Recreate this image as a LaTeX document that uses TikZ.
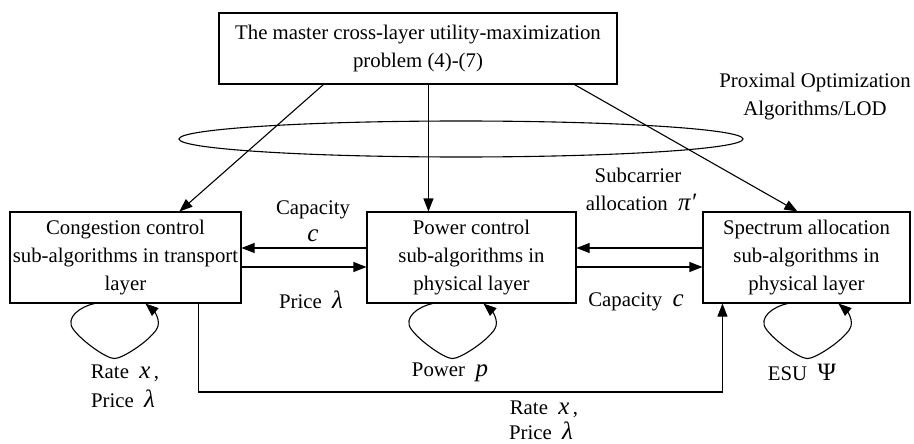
\documentclass[tikz,border=0pt]{standalone}
\usepackage{fontspec}
\setmainfont{Liberation Serif}
\usetikzlibrary{arrows.meta}
% italic symbol set a little larger than the running text
\newcommand\sym[1]{{\fontsize{25}{28}\selectfont\itshape #1}}
\newcommand\symup[1]{{\fontsize{25}{28}\selectfont #1}}

\begin{document}
\begin{tikzpicture}[x=1pt,y=-1pt,line width=1.1pt,
  arr/.style={-{Triangle[length=13pt,width=10pt]}},
  txt/.style={font=\fontsize{20.8}{28}\selectfont},
  box/.style={txt,draw,align=center,inner sep=0pt,minimum height=91pt},
  lbl/.style={txt,align=center,inner sep=0pt},
  selfloop/.pic={\draw[arr] (0,0) .. controls (-14,3) and (-30,14) .. (-21,26)
      .. controls (-12,38) and (12,55) .. (20,55)
      .. controls (28,55) and (54,38) .. (62,26)
      .. controls (68,17) and (58,6) .. (51,0);}]
\useasboundingbox (0,0) rectangle (914,444);

% master problem and the three layer sub-problems
\node[box,minimum width=398pt,minimum height=71pt] (master) at (418,48.5)
  {The master cross-layer utility-maximization\\problem (4)-(7)};
\node[box,minimum width=231pt] (cong)  at (125.5,257.5) {Congestion control\\sub-algorithms in transport\\layer};
\node[box,minimum width=209pt] (power) at (471.5,257.5) {Power control\\sub-algorithms in\\physical layer};
\node[box,minimum width=207pt] (spec)  at (806.5,257.5) {Spectrum allocation\\sub-algorithms in\\physical layer};

% decomposition ring
\draw (461,139) ellipse [x radius=282,y radius=18];
\node[lbl] (prox) at (815,96.5) {Proximal Optimization\\Algorithms/LOD};

% master to sub-problems
\draw[arr] ([xshift=105pt]master.south west) -- ([xshift=170pt]cong.north west);
\draw[arr] ([xshift=210pt]master.south west) -- ([xshift=62pt]power.north west);
\draw[arr] ([xshift=356pt]master.south west) -- ([xshift=95pt]spec.north west);

% exchanges between neighbouring layers
\draw[arr] ([yshift=9.5pt]power.west) -- ([yshift=9.5pt]cong.east);
\draw[arr] ([yshift=-9.5pt]cong.east) -- ([yshift=-9.5pt]power.west);
\draw[arr] ([yshift=9.5pt]spec.west) -- ([yshift=9.5pt]power.east);
\draw[arr] ([yshift=-9.5pt]power.east) -- ([yshift=-9.5pt]spec.west);

\node[lbl] (capL)   at (313,210) {Capacity};
\node[lbl] (cL)     at (313,236) {\sym{c}};
\node[lbl] (priceL) at (311,300) {Price\ \ \sym{λ}};
\node[lbl] (subc)   at (638,175) {Subcarrier};
\node[lbl] (alloc)  at (641,202) {allocation\ \ \sym{π′}};
\node[lbl] (capR)   at (636,302) {Capacity\ \ \sym{c}};

% feedback from transport layer to spectrum allocation
\coordinate (busy) at (0,392);
\coordinate (fbL) at ([xshift=189pt]cong.south west);
\coordinate (fbR) at ([xshift=20pt]spec.south west);
\draw[arr] (fbL) -- (fbL |- busy) -| (fbR);
\node[lbl] (rate2) at (544,409) {Rate\ \ \sym{x}\,,};
\node[lbl,anchor=base] (price2) at (541,439) {Price\ \ \sym{λ}};

% local iterations
\pic at ([xshift=85pt]cong.south west) {selfloop};
\pic at ([xshift=66pt]power.south west) {selfloop};
\pic at ([xshift=85pt]spec.south west) {selfloop};
\node[lbl] (rate1) at (125,373) {Rate\ \ \sym{x}\,,};
\node[lbl] (price1) at (123,399) {Price\ \ \sym{λ}};
\node[lbl] (powp)  at (450,372) {Power\ \ \sym{p}};
\node[lbl] (esu)   at (802,372) {ESU\ \ \symup{Ψ}};
\end{tikzpicture}
\end{document}
